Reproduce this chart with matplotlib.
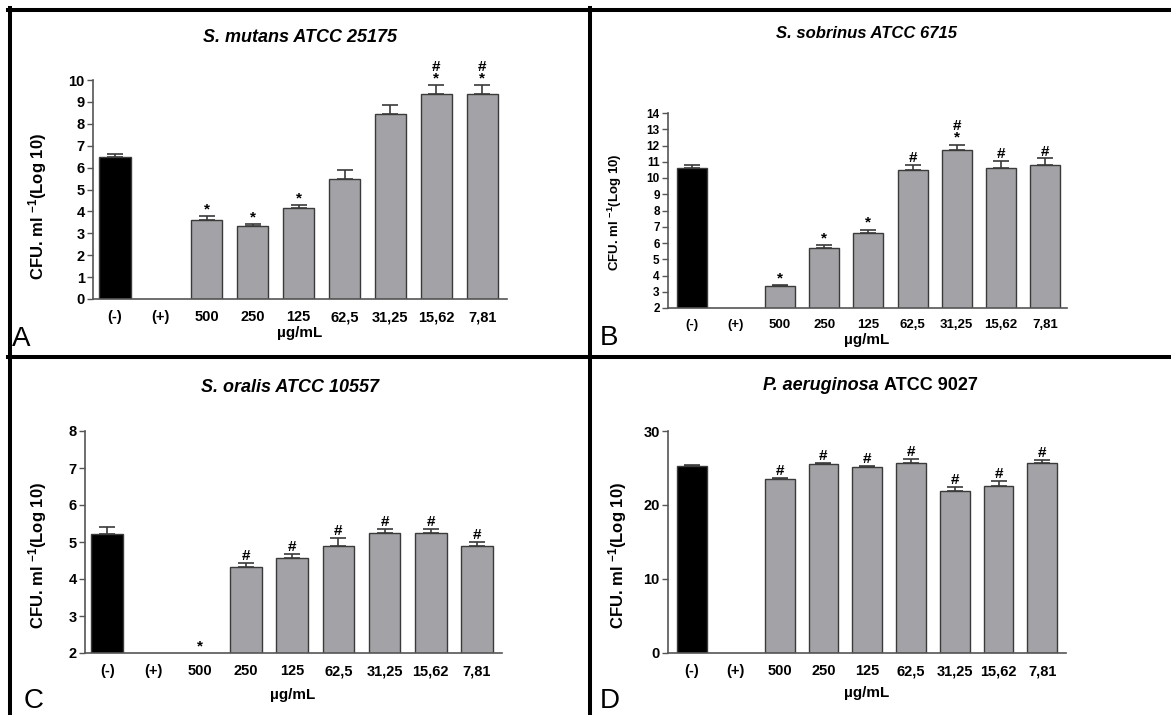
import matplotlib
matplotlib.use('Agg')
import matplotlib.pyplot as plt
from matplotlib import font_manager
from matplotlib.lines import Line2D
import numpy as np

nan = np.nan

# categorias comuns aos quatro paineis
categorias = ['(-)', '(+)', '500', '250', '125', '62,5', '31,25', '15,62', '7,81']

# A - S. mutans
mutans_media = [6.5, nan, 3.63, 3.34, 4.14, 5.46, 8.45, 9.36, 9.36]
mutans_erro = [0.13, 0, 0.15, 0.07, 0.14, 0.41, 0.41, 0.41, 0.41]
mutans_marcas = ['', '', '*', '*', '*', '', '', '*#', '*#']

# B - S. sobrinus
sobrinus_media = [10.64, nan, 3.33, 5.71, 6.64, 10.51, 11.72, 10.64, 10.82]
sobrinus_erro = [0.18, 0, 0.06, 0.15, 0.18, 0.31, 0.33, 0.41, 0.38]
sobrinus_marcas = ['', '', '*', '*', '*', '#', '*#', '#', '#']

# C - S. oralis
oralis_media = [5.22, nan, nan, 4.33, 4.56, 4.9, 5.24, 5.24, 4.9]
oralis_erro = [0.19, 0, 0, 0.11, 0.12, 0.21, 0.1, 0.1, 0.1]
oralis_marcas = ['', '', '*', '#', '#', '#', '#', '#', '#']

# D - P. aeruginosa
aerug_media = [25.3, nan, 23.45, 25.5, 25.15, 25.65, 21.9, 22.6, 25.65]
aerug_erro = [0.15, 0, 0.15, 0.2, 0.15, 0.55, 0.55, 0.6, 0.4]
aerug_marcas = ['', '', '#', '#', '#', '#', '#', '#', '#']

W, H = 1171, 715
nomes = {f.name for f in font_manager.fontManager.ttflist}
estreita = 'Liberation Sans Narrow' if 'Liberation Sans Narrow' in nomes else 'Liberation Sans'

plt.rcParams['font.family'] = ['Liberation Sans', 'DejaVu Sans']
plt.rcParams['mathtext.fontset'] = 'custom'
plt.rcParams['mathtext.rm'] = 'Liberation Sans:bold'
plt.rcParams['mathtext.bf'] = 'Liberation Sans:bold'
plt.rcParams['mathtext.default'] = 'bf'

fig = plt.figure(figsize=(W / 100, H / 100), dpi=100)


def caixa(l, t, r, b):
    return [l / W, 1 - b / H, (r - l) / W, (b - t) / H]


def px(x, y):
    return x / W, 1 - y / H


# (media, erro, marcas, caixa em pixels, xlim, ylim, yticks, tam. ticks)
paineis = [
    (mutans_media, mutans_erro, mutans_marcas, (93, 80, 507, 299),
     (-0.48, 8.54), (0, 10), range(0, 11), 10.5, 10.5),
    (sobrinus_media, sobrinus_erro, sobrinus_marcas, (668, 113, 1067, 308),
     (-0.54, 8.5), (2, 14), range(2, 15), 8.5, 9.5),
    (oralis_media, oralis_erro, oralis_marcas, (85, 431, 502, 653),
     (-0.48, 8.54), (2, 8), range(2, 9), 10.5, 10.5),
    (aerug_media, aerug_erro, aerug_marcas, (668, 431, 1066, 653),
     (-0.55, 8.54), (0, 30), [0, 10, 20, 30], 10.5, 10.5),
]

cinza = '#a3a3a7'
borda = '#3a3a3a'
x = np.arange(len(categorias))

for media, erro, marcas, pos, xlim, ylim, yticks, fs_y, fs_x in paineis:
    ax = fig.add_axes(caixa(*pos))
    media = np.array(media, dtype=float)
    erro = np.array(erro, dtype=float)
    cores = ['black'] + [cinza] * (len(categorias) - 1)
    ax.bar(x, media, 0.68, color=cores, edgecolor=borda, linewidth=1.0, zorder=2)
    ax.errorbar(x, media, yerr=[np.zeros_like(erro), erro], fmt='none',
                ecolor=borda, elinewidth=1.2, capsize=6, capthick=1.2, zorder=3)
    for i, m in enumerate(marcas):
        if not m:
            continue
        topo = media[i] + erro[i] if not np.isnan(media[i]) else ylim[0]
        ax.annotate('\n'.join(reversed(list(m))), (i, topo), xytext=(0, 0),
                    textcoords='offset points', ha='center', va='bottom',
                    fontsize=11, fontweight='bold', linespacing=0.75,
                    annotation_clip=False)
    ax.set_xlim(*xlim)
    ax.set_ylim(*ylim)
    ax.set_yticks(list(yticks))
    ax.set_xticks(x)
    ax.set_xticklabels(categorias, family=estreita, fontweight='bold', fontsize=fs_x)
    for lab in ax.get_yticklabels():
        lab.set_family(estreita)
        lab.set_fontweight('bold')
        lab.set_fontsize(fs_y)
    ax.tick_params(axis='x', length=0, pad=8)
    ax.tick_params(axis='y', direction='out', length=4, width=1, color='#555555', pad=2)
    for s in ['top', 'right']:
        ax.spines[s].set_visible(False)
    for s in ['left', 'bottom']:
        ax.spines[s].set_color('#555555')
        ax.spines[s].set_linewidth(1.2)

# titulos
fig.text(*px(300, 38), 'S. mutans ATCC 25175', ha='center', va='center',
         fontsize=13, fontweight='bold', style='italic')
fig.text(*px(867, 34), 'S. sobrinus ATCC 6715', ha='center', va='center',
         fontsize=12, fontweight='bold', style='italic')
fig.text(*px(290, 388), 'S. oralis ATCC 10557', ha='center', va='center',
         fontsize=13, fontweight='bold', style='italic')
fig.text(*px(879, 385), 'P. aeruginosa', ha='right', va='center',
         fontsize=13, fontweight='bold', style='italic')
fig.text(*px(884, 385), 'ATCC 9027', ha='left', va='center',
         fontsize=13, fontweight='bold')

# rotulos dos eixos
ylab = r'CFU. ml $^{-1}$(Log 10)'
for (lx, ly, fs) in [(38, 206, 12), (615, 212, 9.5), (38, 555, 12), (618, 555, 12)]:
    fig.text(*px(lx, ly), ylab, rotation=90, ha='center', va='center', fontsize=fs,
             fontweight='bold')
for (lx, ly, fs) in [(300, 333, 11), (867, 340, 11), (293, 695, 11), (867, 693, 11)]:
    fig.text(*px(lx, ly), 'µg/mL', ha='center', va='center', fontsize=fs,
             fontweight='bold', family=estreita)

# letras dos paineis
for (lx, ly, letra) in [(12, 346, 'A'), (600, 345, 'B'), (24, 708, 'C'), (600, 708, 'D')]:
    fig.text(*px(lx, ly), letra, ha='left', va='baseline', fontsize=20)

# moldura
lw = 2.9
linhas = [((8, 10), (1171, 10)), ((9.5, 8), (9.5, 715)),
          ((590, 8), (590, 715)), ((8, 357), (1171, 357))]
for (x0, y0), (x1, y1) in linhas:
    a, b = px(x0, y0)
    c, d = px(x1, y1)
    fig.add_artist(Line2D([a, c], [b, d], transform=fig.transFigure,
                          color='black', linewidth=lw))

fig.savefig('out.png', dpi=100)
